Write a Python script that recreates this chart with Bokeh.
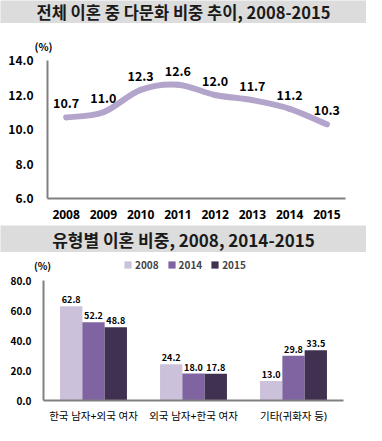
from bokeh.plotting import figure
from bokeh.models import (Range1d, FixedTicker, PrintfTickFormatter, Label, Legend, LegendItem,
                          FactorRange, ColumnDataSource)
from bokeh.transform import dodge
from bokeh.layouts import column
from bokeh.core.properties import value
from bokeh.embed import file_html
from bokeh.resources import INLINE

# ---------------- data ----------------
title1 = "전체 이혼 중 다문화 비중 추이, 2008-2015"
title2 = "유형별 이혼 비중, 2008, 2014-2015"
unit_label = "(%)"
years = [2008, 2009, 2010, 2011, 2012, 2013, 2014, 2015]
share = [10.7, 11.0, 12.3, 12.6, 12.0, 11.7, 11.2, 10.3]
y1_ticks = [6, 8, 10, 12, 14]

types = ["한국 남자+외국 여자", "외국 남자+한국 여자", "기타(귀화자 등)"]
series_names = ["2008", "2014", "2015"]
v2008 = [62.8, 24.2, 13.0]
v2014 = [52.2, 18.0, 29.8]
v2015 = [48.8, 17.8, 33.5]
y2_ticks = [0, 20, 40, 60, 80]

FONT = "Noto Sans CJK KR"
XFONT = "Noto Sans, Noto Sans CJK KR"
W = 366
BAND = "#dcdcdc"
AXIS = "#808080"
LINE_COL = "#b3a4cb"
BAR_COLS = ["#ccc1da", "#8064a2", "#403151"]


def bare(h, bg):
    b = figure(width=W, height=h, x_range=Range1d(0, W), y_range=Range1d(0, h),
               output_backend="svg", toolbar_location=None, frame_align=False,
               x_axis_location=None, y_axis_location=None,
               min_border=0, min_border_left=0, min_border_right=0,
               min_border_top=0, min_border_bottom=0,
               outline_line_color=None, background_fill_color=bg, border_fill_color=bg)
    b.grid.visible = False
    return b


def band(text, h, size):
    b = bare(h, BAND)
    b.add_layout(Label(x=W / 2, y=h / 2, text=text, text_align="center", text_baseline="middle",
                       text_font=FONT, text_font_style="bold", text_font_size=size,
                       text_color="#1a1a1a"))
    return b


def style_axes(p, ysize, xsize, xstyle, ystand, xstand):
    for ax in (p.xaxis[0], p.yaxis[0]):
        ax.axis_label = None
        ax.axis_line_color = AXIS
        ax.axis_line_width = 2
        ax.major_tick_line_color = None
        ax.minor_tick_line_color = None
        ax.major_tick_out = 0
        ax.major_tick_in = 0
        ax.minor_tick_out = 0
        ax.minor_tick_in = 0
        ax.major_label_text_color = "#000000"
        ax.major_label_text_line_height = 0.9
    p.yaxis[0].major_label_text_font = FONT
    p.yaxis[0].major_label_text_font_size = ysize
    p.yaxis[0].major_label_text_font_style = "bold"
    p.yaxis[0].major_label_standoff = ystand
    p.xaxis[0].major_label_text_font = XFONT
    p.xaxis[0].major_label_text_font_size = xsize
    p.xaxis[0].major_label_text_font_style = xstyle
    p.xaxis[0].major_label_standoff = xstand
    p.grid.visible = False
    p.outline_line_color = None


# ---------------- chart 1 ----------------
b1 = band(title1, 23, "16.5px")

p1 = figure(width=W, height=202, x_range=Range1d(2007.5, 2015.5), y_range=Range1d(6, 14),
            output_backend="svg", toolbar_location=None, title=unit_label, frame_align=False,
            min_border_left=47, min_border_right=21, min_border_top=37, min_border_bottom=27)
style_axes(p1, "12px", "12px", "bold", 14, 11)
p1.title.align = "left"
p1.title.offset = -13
p1.title.standoff = 14
p1.title.text_font = FONT
p1.title.text_font_style = "bold"
p1.title.text_font_size = "10.5px"
p1.title.text_color = "#000000"
p1.yaxis[0].ticker = FixedTicker(ticks=y1_ticks)
p1.yaxis[0].formatter = PrintfTickFormatter(format="%.1f")
p1.xaxis[0].ticker = FixedTicker(ticks=years)
p1.xaxis[0].formatter = PrintfTickFormatter(format="%d")

# smooth line (Catmull-Rom -> cubic bezier) through the data points
n = len(years)
bx0, by0, bx1, by1, bcx0, bcy0, bcx1, bcy1 = [], [], [], [], [], [], [], []
for i in range(n - 1):
    xa, ya = years[max(i - 1, 0)], share[max(i - 1, 0)]
    xb, yb = years[i], share[i]
    xc, yc = years[i + 1], share[i + 1]
    xd, yd = years[min(i + 2, n - 1)], share[min(i + 2, n - 1)]
    bx0.append(xb); by0.append(yb); bx1.append(xc); by1.append(yc)
    bcx0.append(xb + (xc - xa) / 6); bcy0.append(yb + (yc - ya) / 6)
    bcx1.append(xc - (xd - xb) / 6); bcy1.append(yc - (yd - yb) / 6)
p1.bezier(x0=bx0, y0=by0, x1=bx1, y1=by1, cx0=bcx0, cy0=bcy0, cx1=bcx1, cy1=bcy1,
          line_color=LINE_COL, line_width=6, line_cap="round")
p1.text(x=years, y=share, text=[f"{v:.1f}" for v in share], y_offset=-14,
        text_align="center", text_baseline="middle", text_font=value(FONT),
        text_font_style="bold", text_font_size="12.5px", text_color="#000000")

# ---------------- chart 2 ----------------
b2 = band(title2, 27, "17px")

# legend row (unit label + series legend); swatch renderers carry no visible data
lg = bare(21, "#ffffff")
nan = float("nan")
swatches = [lg.vbar(x=[nan], top=[nan], width=1, fill_color=c, line_color=None) for c in BAR_COLS]
lg.add_layout(Label(x=42, y=8, text=unit_label, text_align="center", text_baseline="middle",
                    text_font=FONT, text_font_style="bold", text_font_size="10px",
                    text_color="#000000"))
legend = Legend(items=[LegendItem(label=n, renderers=[r]) for n, r in zip(series_names, swatches)],
                orientation="horizontal", location=(123, 1), glyph_width=9, glyph_height=9,
                label_standoff=3, spacing=8, padding=0, margin=0, label_height=10,
                label_text_font=FONT, label_text_font_style="bold", label_text_font_size="10px",
                background_fill_alpha=0, border_line_color=None)
lg.add_layout(legend, "center")

src = ColumnDataSource(dict(cat=types, v2008=v2008, v2014=v2014, v2015=v2015,
                            t2008=[f"{v:.1f}" for v in v2008],
                            t2014=[f"{v:.1f}" for v in v2014],
                            t2015=[f"{v:.1f}" for v in v2015]))
p2 = figure(width=W, height=152, x_range=FactorRange(factors=types, range_padding=0),
            y_range=Range1d(0, 80), output_backend="svg", toolbar_location=None,
            frame_align=False,
            min_border_left=43, min_border_right=23, min_border_top=7, min_border_bottom=21)
style_axes(p2, "10px", "10.5px", "normal", 12, 8)
p2.yaxis[0].ticker = FixedTicker(ticks=y2_ticks)
p2.yaxis[0].formatter = PrintfTickFormatter(format="%.1f")

bw = 0.223
offsets = [-bw, 0.0, bw]
for name, col, off in zip(series_names, BAR_COLS, offsets):
    p2.vbar(x=dodge("cat", off, range=p2.x_range), top="v" + name, width=bw, source=src,
            fill_color=col, line_color=None)
    p2.text(x=dodge("cat", off, range=p2.x_range), y="v" + name, text="t" + name, source=src,
            y_offset=-3, text_align="center", text_baseline="bottom", text_font=value(FONT),
            text_font_style="bold", text_font_size="9px", text_color="#000000")

layout = column(b1, p1, b2, lg, p2, spacing=0)
open("out.html", "w").write(file_html(layout, INLINE))
